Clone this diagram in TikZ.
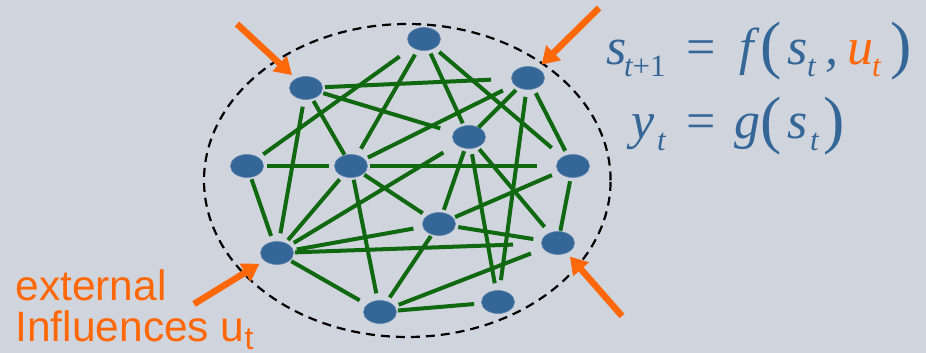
\documentclass[tikz,border=0pt]{standalone}
\usepackage{fontspec}
\setmainfont{Liberation Sans}
\newfontfamily\tms{Liberation Serif}
\usetikzlibrary{shapes.geometric,arrows.meta}
\definecolor{bgc}{RGB}{208,212,220}
\definecolor{nodeblue}{RGB}{52,102,152}
\definecolor{edgegreen}{RGB}{16,104,16}
\definecolor{orng}{RGB}{255,104,8}
\definecolor{eqblue}{RGB}{52,102,152}
\newcommand\myedge[4]{\draw[ed,shorten <=#3pt,shorten >=#4pt] (#1.center) -- (#2.center);}
\tikzset{
  netnode/.style={ellipse, fill=nodeblue, draw=nodeblue!80!white, line width=0.6pt, minimum width=33pt, minimum height=23pt, inner sep=0pt},
  ed/.style={draw=edgegreen, line width=4pt},
  influence/.style={draw=orng, line width=6.5pt, -{Triangle[length=17pt,width=20pt]}},
  eqm/.style={anchor=base west, inner sep=0pt, outer sep=0pt, text=eqblue, font=\tms\itshape\fontsize{52}{52}\selectfont},
  eqs/.style={anchor=base west, inner sep=0pt, outer sep=0pt, text=eqblue, font=\tms\itshape\fontsize{31}{31}\selectfont},
  eqp/.style={anchor=base west, inner sep=0pt, outer sep=0pt, text=eqblue, font=\tms\fontsize{64}{64}\selectfont},
  lbl/.style={anchor=base west, inner sep=0pt, outer sep=0pt, text=orng, font=\fontsize{42.5}{42.5}\selectfont}
}
\begin{document}
\begin{tikzpicture}[x=1pt,y=-1pt]
\fill[bgc] (0,0) rectangle (926,353);
\useasboundingbox (0,0) rectangle (926,353);
% system boundary
\draw[black, line width=2.2pt, dash pattern=on 9pt off 6pt] (407.3,180.5) ellipse [x radius=203.3pt, y radius=156.5pt];
% nodes
\node[netnode] (A) at (424,39) {};
\node[netnode] (B) at (306,88) {};
\node[netnode] (C) at (528,78) {};
\node[netnode] (D) at (469,137) {};
\node[netnode] (E) at (247,166) {};
\node[netnode] (F) at (351,166) {};
\node[netnode] (G) at (573,166) {};
\node[netnode] (H) at (439,224) {};
\node[netnode] (I) at (558,243) {};
\node[netnode] (J) at (277,253) {};
\node[netnode] (K) at (380,312) {};
\node[netnode] (L) at (498,302) {};
% edges
\myedge{B}{C}{19}{37}
\myedge{A}{E}{30}{20}
\myedge{A}{F}{18}{20}
\myedge{A}{D}{16}{15}
\myedge{A}{G}{20}{28}
\myedge{B}{D}{18}{30}
\myedge{B}{J}{19}{20}
\myedge{B}{F}{15}{13}
\myedge{C}{F}{28}{19}
\myedge{C}{D}{17}{13.5}
\myedge{C}{L}{19}{22}
\myedge{C}{G}{17}{17}
\myedge{E}{F}{19.5}{22.5}
\myedge{E}{J}{14}{18}
\myedge{F}{G}{19}{36}
\myedge{F}{J}{17.5}{17}
\myedge{F}{K}{14}{19}
\myedge{F}{H}{16}{19.5}
\myedge{D}{J}{30}{19.5}
\myedge{D}{H}{15}{15}
\myedge{D}{L}{17.5}{19}
\myedge{D}{I}{16}{21}
\myedge{G}{H}{23}{17.5}
\myedge{G}{I}{15.5}{12.5}
\myedge{J}{H}{20}{26}
\myedge{J}{I}{18}{45}
\myedge{J}{K}{16.5}{23.5}
\myedge{H}{I}{19.5}{25}
\myedge{H}{K}{14.5}{17.5}
\myedge{K}{I}{20}{29}
\myedge{K}{L}{18}{24}
% external influences
\coordinate (a1) at (237,24);
\coordinate (a2) at (599,8);
\coordinate (a3) at (622,316);
\coordinate (a4) at (194,304);
\draw[influence, shorten >=19pt] (a1) -- (B.center);
\draw[influence, shorten >=19pt] (a2) -- (C.center);
\draw[influence, shorten >=18pt] (a3) -- (I.center);
\draw[influence, shorten >=20.5pt] (a4) -- (J.center);
% label
\node[lbl] (ext) at (15.5,300.7) {external};
\node[lbl] (infl) at (15.5,341) {Influences u\smash{\raisebox{-8pt}{\fontsize{32}{32}\selectfont t}}};
% equation 1
\node[eqm] (e1s) at (606,65) {s};
\node[eqs] (e1sub) at (624,77) {t\upshape+1};
\node[eqm] (e1eq) at (686,65) {\upshape=};
\node[eqm] (e1f) at (739.5,65) {f};
\node[eqp] (e1lp) at (760,66.5) {(};
\node[eqm] (e1s2) at (787,65) {s};
\node[eqs] (e1t2) at (807,77) {t};
\node[eqm] (e1c) at (825,65) {,};
\node[eqm, text=orng] (e1u) at (847,65) {u};
\node[eqs, text=orng] (e1ut) at (872,77) {t};
\node[eqp] (e1rp) at (890,66.5) {)};
% equation 2
\node[eqm] (e2y) at (631,138.5) {y};
\node[eqs] (e2t) at (657,150.5) {t};
\node[eqm] (e2eq) at (686,138.5) {\upshape=};
\node[eqm] (e2g) at (734,138.5) {g};
\node[eqp] (e2lp) at (760,141.5) {(};
\node[eqm] (e2s) at (787,138.5) {s};
\node[eqs] (e2st) at (810,150.5) {t};
\node[eqp] (e2rp) at (823,141.5) {)};
\end{tikzpicture}
\end{document}
